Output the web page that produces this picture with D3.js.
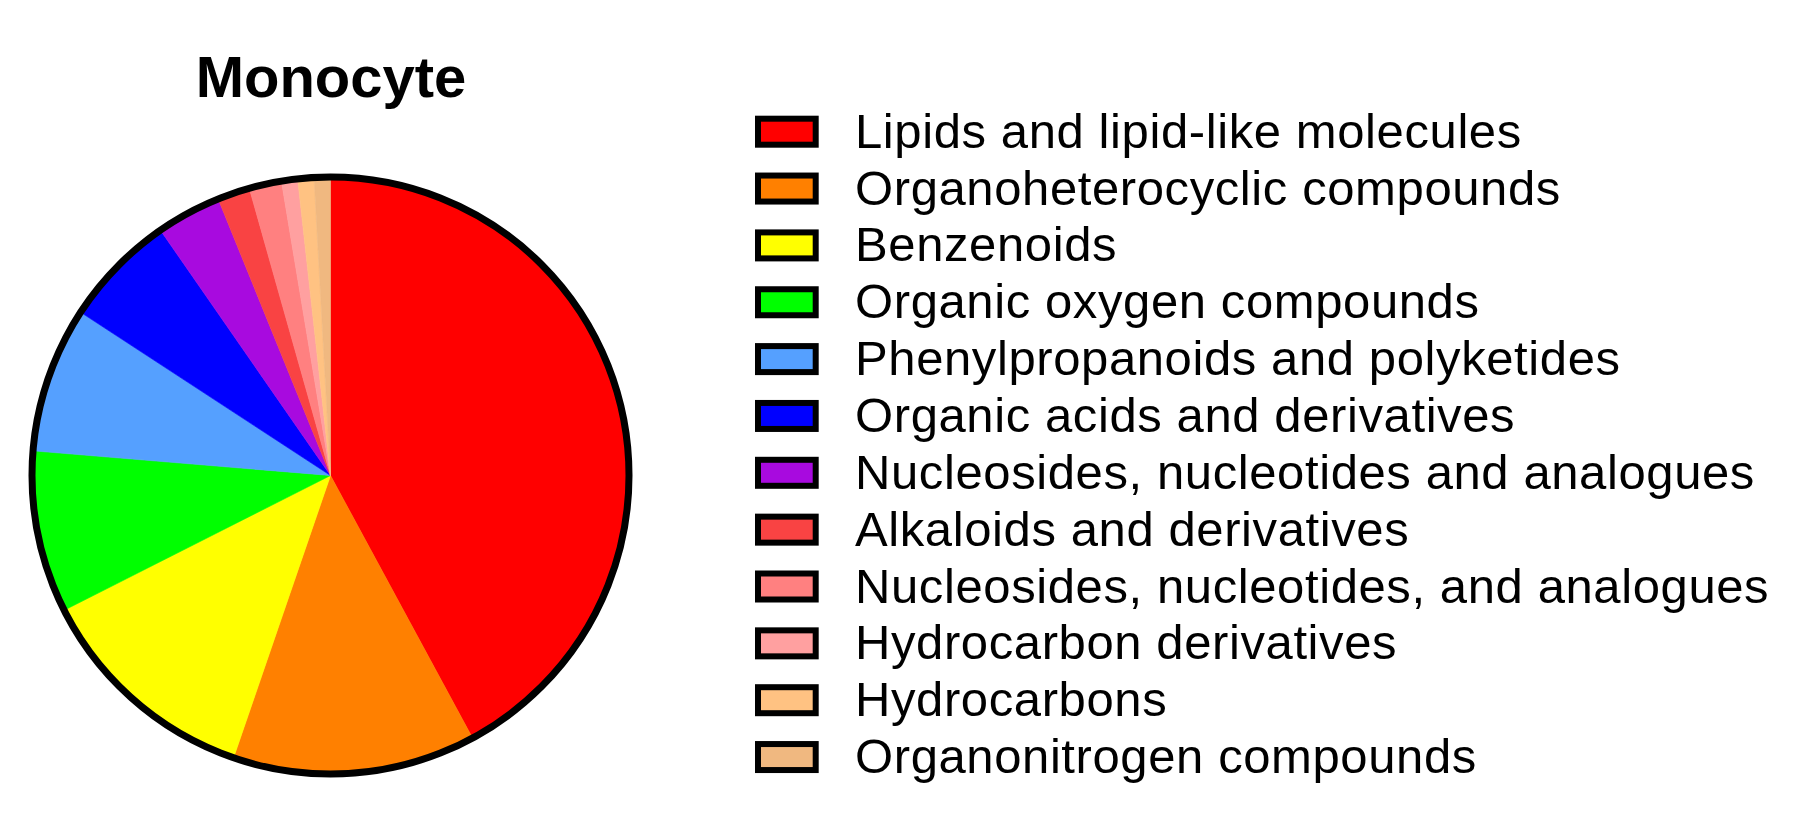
<!DOCTYPE html>
<html>
<head>
<meta charset="utf-8">
<script src="https://cdn.jsdelivr.net/npm/d3@7"></script>
<style>
  html, body { margin: 0; padding: 0; background: #fff; }
  svg { display: block; }
</style>
</head>
<body>
<svg id="chart" width="1814" height="828"></svg>
<script>
const title = "Monocyte";
const categories = [
  "Lipids and lipid-like molecules",
  "Organoheterocyclic compounds",
  "Benzenoids",
  "Organic oxygen compounds",
  "Phenylpropanoids and polyketides",
  "Organic acids and derivatives",
  "Nucleosides, nucleotides and analogues",
  "Alkaloids and derivatives",
  "Nucleosides, nucleotides, and analogues",
  "Hydrocarbon derivatives",
  "Hydrocarbons",
  "Organonitrogen compounds"
];
const values = [48, 15, 14, 10, 9, 7, 4, 2, 2, 1, 1, 1];
const colors = [
  "#FF0000", "#FF8000", "#FFFF00", "#00FF00", "#55A0FF", "#0000FF",
  "#A80ADF", "#F94343", "#FF8080", "#FFA0A0", "#FFC282", "#F0B880"
];

const svg = d3.select("#chart");
const font = "'Liberation Sans', Arial, Helvetica, sans-serif";

// Title
svg.append("text")
  .attr("x", 331)
  .attr("y", 97)
  .attr("text-anchor", "middle")
  .attr("font-family", font)
  .attr("font-weight", "bold")
  .attr("font-size", 58)
  .attr("fill", "#000")
  .text(title);

// Pie
const cx = 330.5, cy = 475.5, r = 298.5;
const data = categories.map((c, i) => ({ name: c, value: values[i], color: colors[i] }));
const pie = d3.pie().value(d => d.value).sort(null).startAngle(0).endAngle(2 * Math.PI);
const arc = d3.arc().innerRadius(0).outerRadius(r);
const color = d3.scaleOrdinal().domain(categories).range(colors);

const g = svg.append("g").attr("transform", `translate(${cx},${cy})`);
g.selectAll("path.slice")
  .data(pie(data))
  .join("path")
  .attr("class", "slice")
  .attr("d", arc)
  .attr("fill", d => color(d.data.name))
  .attr("stroke", d => color(d.data.name))
  .attr("stroke-width", 0.6);

g.append("circle")
  .attr("r", r)
  .attr("fill", "none")
  .attr("stroke", "#000")
  .attr("stroke-width", 7);

// Legend
const legendY = d3.scaleBand()
  .domain(categories)
  .range([118.7, 118.7 + 56.85 * categories.length])
  .paddingInner(0).paddingOuter(0);

const lg = svg.append("g");
const rows = lg.selectAll("g.row")
  .data(categories)
  .join("g")
  .attr("class", "row")
  .attr("transform", d => `translate(0,${legendY(d)})`);

rows.append("rect")
  .attr("x", 758)
  .attr("y", 0)
  .attr("width", 57.7)
  .attr("height", 26)
  .attr("fill", d => color(d))
  .attr("stroke", "#000")
  .attr("stroke-width", 6);

rows.append("text")
  .attr("x", 855)
  .attr("y", 29)
  .attr("font-family", font)
  .attr("font-size", 49)
  .attr("letter-spacing", "0.6px")
  .attr("fill", "#000")
  .text(d => d);
</script>
</body>
</html>
